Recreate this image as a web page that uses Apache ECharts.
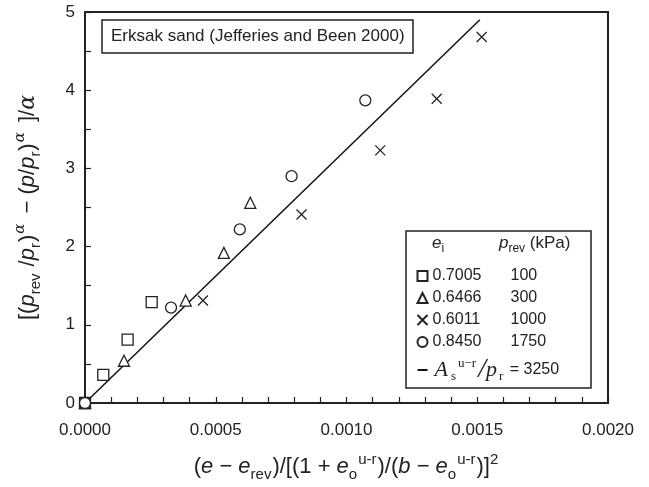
<!DOCTYPE html>
<html>
<head>
<meta charset="utf-8">
<title>Erksak sand</title>
<style>
body{margin:0;padding:0;background:#fff;}
#main{width:649px;height:487px;}
</style>
</head>
<body>
<div id="main"></div>
<script src="https://cdn.jsdelivr.net/npm/echarts@6/dist/echarts.min.js"></script>
<script>
// values
var squareX = [0, 0.000070, 0.000163, 0.000255];
var squareY = [0, 0.36, 0.81, 1.29];
var triX = [0, 0.000149, 0.000385, 0.000531, 0.000632];
var triY = [0, 0.54, 1.31, 1.92, 2.56];
var crossX = [0, 0.000451, 0.000828, 0.001129, 0.001345, 0.001517];
var crossY = [0, 1.31, 2.41, 3.23, 3.89, 4.68];
var circX = [0, 0.000329, 0.000592, 0.000790, 0.001072];
var circY = [0, 1.22, 2.22, 2.90, 3.87];
var fitX = [0, 0.00151];
var fitY = [0, 4.9];
var eiVals = ['0.7005', '0.6466', '0.6011', '0.8450'];
var prevVals = ['100', '300', '1000', '1750'];

var ink = '#222';
var font = "'Liberation Sans', Arial, sans-serif";
var crossPath = 'path://M0,0L10,10M10,0L0,10';

function pairs(xs, ys){
  var out = [];
  for(var i=0;i<xs.length;i++){ out.push([xs[i], ys[i]]); }
  return out;
}

var symbols = ['rect', 'triangle', crossPath, 'circle'];
var sizes = [11, 11, 10, 11];
var sets = [[squareX, squareY], [triX, triY], [crossX, crossY], [circX, circY]];

var series = [];
for(var k=0;k<4;k++){
  series.push({
    name: eiVals[k],
    type: 'scatter',
    symbol: symbols[k],
    symbolSize: sizes[k],
    clip: false,
    itemStyle: {color: k==2 ? 'none' : '#fff', borderColor: ink, borderWidth: 1.3, opacity: 1},
    emphasis: {disabled: true},
    data: pairs(sets[k][0], sets[k][1])
  });
}
series.push({
  name: 'fit',
  type: 'line',
  symbol: 'none',
  lineStyle: {color: '#111', width: 1.5},
  itemStyle: {color: '#111'},
  data: pairs(fitX, fitY),
  z: 1
});

var titleRich = {
  t: {fontFamily: font, fontSize: 22, color: ink, lineHeight: 30, verticalAlign: 'middle'},
  i: {fontFamily: font, fontSize: 22, fontStyle: 'italic', color: ink, lineHeight: 30, verticalAlign: 'middle'},
  s: {fontFamily: font, fontSize: 15, color: ink, lineHeight: 15, verticalAlign: 'bottom', padding: [0, 1, 0, 0]},
  sp: {fontFamily: font, fontSize: 15, color: ink, lineHeight: 15, verticalAlign: 'top', padding: [0, 1, 0, 0]},
  g: {fontFamily: 'DejaVu Serif', fontSize: 15, fontStyle: 'italic', color: ink, lineHeight: 15, verticalAlign: 'top', padding: [0, 4, 0, 1]},
  ga: {fontFamily: 'DejaVu Serif', fontSize: 22, fontStyle: 'italic', color: ink, lineHeight: 30, verticalAlign: 'middle'}
};

var option = {
  animation: false,
  backgroundColor: '#fff',
  title: {
    text: 'Erksak sand (Jefferies and Been 2000)',
    left: 102, top: 20,
    padding: [8, 9, 8, 9],
    borderColor: ink, borderWidth: 1.5,
    textStyle: {fontFamily: font, fontSize: 17, fontWeight: 'normal', color: ink}
  },
  grid: {left: 85, right: 41, top: 12, bottom: 84, show: true, borderColor: ink, borderWidth: 2, backgroundColor: 'transparent'},
  xAxis: {
    type: 'value', min: 0, max: 0.002, interval: 0.0005,
    axisLine: {lineStyle: {color: ink, width: 2}},
    axisTick: {inside: true, length: 6, lineStyle: {color: ink, width: 1.2}},
    minorTick: {show: true, splitNumber: 5, length: 6, lineStyle: {color: ink, width: 1.2}},
    splitLine: {show: false},
    axisLabel: {fontFamily: font, fontSize: 17, color: ink, margin: 19, formatter: function(v){ return v.toFixed(4); }},
    name: '{t|(}{i|e}{t| − }{i|e}{s|rev}{t|)/[(1 + }{i|e}{s|o}{sp|u-r}{t|)/(}{i|b}{t| − }{i|e}{s|o}{sp|u-r}{t|)]}{sp|2}',
    nameLocation: 'middle', nameGap: 49,
    nameTextStyle: {rich: titleRich}
  },
  yAxis: {
    type: 'value', min: 0, max: 5, interval: 1,
    axisLine: {lineStyle: {color: ink, width: 2}},
    axisTick: {inside: true, length: 6, lineStyle: {color: ink, width: 1.2}},
    minorTick: {show: true, splitNumber: 2, length: 6, lineStyle: {color: ink, width: 1.2}},
    splitLine: {show: false},
    axisLabel: {fontFamily: font, fontSize: 17, color: ink, margin: 10},
    name: '{t|[(}{i|p}{s|rev}{t| /}{i|p}{s|r}{t|)}{g|α}{t| − (}{i|p}{t|/}{i|p}{s|r}{t|)}{g|α}{t| ]/}{ga|α}',
    nameLocation: 'middle', nameGap: 42, nameRotate: 90,
    nameTextStyle: {rich: titleRich}
  },
  legend: {
    orient: 'vertical',
    left: 410, top: 263,
    itemGap: 6,
    itemWidth: 10, itemHeight: 10,
    selectedMode: false,
    data: eiVals.concat([{name: 'fit', itemStyle: {color: 'rgba(0,0,0,0)', borderWidth: 0}}]),
    formatter: function(name){
      var idx = eiVals.indexOf(name);
      if(idx >= 0){ return '{a|' + name + '}{b|' + prevVals[idx] + '}'; }
      return '{A|A}{s|s}{u|u−r}{sl|/}{P|p}{s|r}{n| = 3250}';
    },
    textStyle: {
      fontFamily: font, fontSize: 16, color: ink,
      rich: {
        a: {fontFamily: font, fontSize: 16, color: ink, width: 78},
        b: {fontFamily: font, fontSize: 16, color: ink},
        A: {fontFamily: 'Liberation Serif', fontSize: 22, fontStyle: 'italic', color: ink, lineHeight: 26, verticalAlign: 'middle', padding: [0, 1, 0, 2]},
        P: {fontFamily: 'Liberation Serif', fontSize: 22, fontStyle: 'italic', color: ink, lineHeight: 26, verticalAlign: 'middle'},
        s: {fontFamily: 'Liberation Serif', fontSize: 13, color: ink, lineHeight: 13, verticalAlign: 'bottom', padding: [0, 2, 0, 2]},
        u: {fontFamily: 'Liberation Serif', fontSize: 13, color: ink, lineHeight: 13, verticalAlign: 'top', padding: [0, 2, 0, 0]},
        sl: {fontFamily: 'Liberation Serif', fontSize: 28, fontStyle: 'italic', color: ink, lineHeight: 26, verticalAlign: 'middle'},
        n: {fontFamily: font, fontSize: 16, color: ink, lineHeight: 26, verticalAlign: 'middle'}
      }
    }
  },
  graphic: [
    {
      type: 'rect', z: 3,
      shape: {x: 406, y: 231, width: 185, height: 157},
      style: {fill: '#fff', stroke: ink, lineWidth: 1.5}
    },
    {
      type: 'text', z: 5, left: 432, top: 235,
      style: {
        text: '{i|e}{s|i}',
        rich: {
          i: {fontFamily: font, fontSize: 17, fontStyle: 'italic', fill: ink, lineHeight: 22, verticalAlign: 'middle'},
          s: {fontFamily: font, fontSize: 12, fill: ink, lineHeight: 12, verticalAlign: 'bottom'}
        }
      }
    },
    {
      type: 'text', z: 5, left: 499, top: 235,
      style: {
        text: '{i|p}{s|rev}{t| (kPa)}',
        rich: {
          i: {fontFamily: font, fontSize: 17, fontStyle: 'italic', fill: ink, lineHeight: 22, verticalAlign: 'middle'},
          s: {fontFamily: font, fontSize: 12, fill: ink, lineHeight: 12, verticalAlign: 'bottom'},
          t: {fontFamily: font, fontSize: 17, fill: ink, lineHeight: 22, verticalAlign: 'middle'}
        }
      }
    }
  ],
  series: series
};

var myChart = echarts.init(document.getElementById('main'));
myChart.setOption(option);
</script>
</body>
</html>
